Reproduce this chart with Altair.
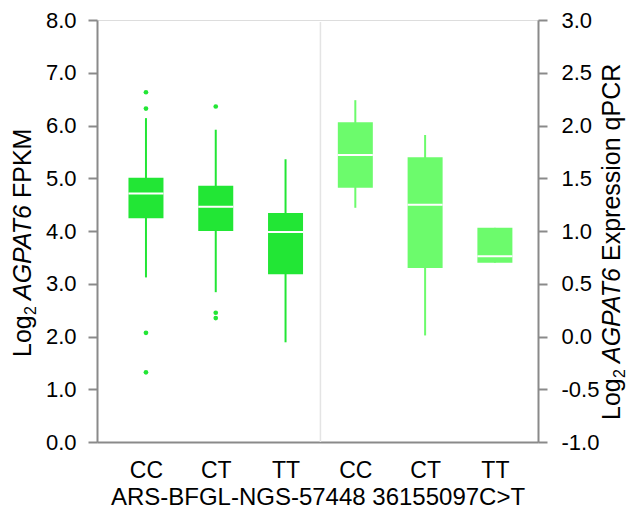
import altair as alt
import pandas as pd

# ---------------- data ----------------
genotypes = ["CC", "CT", "TT"]
x_labels = genotypes + genotypes
snp_title = "ARS-BFGL-NGS-57448 36155097C>T"

fpkm_pos = [0, 1, 2]
fpkm_lower = [3.12, 2.84, 1.89]
fpkm_q1 = [4.24, 4.00, 3.18]
fpkm_median = [4.71, 4.46, 3.98]
fpkm_q3 = [5.01, 4.86, 4.34]
fpkm_upper = [6.14, 5.92, 5.36]
fpkm_outlier_pos = [0, 0, 0, 0, 1, 1, 1]
fpkm_outlier_val = [6.63, 6.32, 2.07, 1.32, 6.36, 2.45, 2.35]

qpcr_pos = [3, 4, 5]
qpcr_lower = [1.22, 0.01, 0.70]
qpcr_q1 = [1.41, 0.65, 0.70]
qpcr_median = [1.72, 1.25, 0.76]
qpcr_q3 = [2.03, 1.70, 1.03]
qpcr_upper = [2.24, 1.91, 1.03]

separator_pos = [2.5]

left_ticks = [0, 1, 2, 3, 4, 5, 6, 7, 8]
right_ticks = [-1.0, -0.5, 0.0, 0.5, 1.0, 1.5, 2.0, 2.5, 3.0]

# ---------------- styles ----------------
FONT = "Liberation Sans"
DARK = "#22e635"
LIGHT = "#6cfb6c"
AXIS_GREY = "#8a8a8a"
W, H = 441, 422
BOX = 35

fpkm_df = pd.DataFrame({"pos": fpkm_pos, "genotype": genotypes, "lower": fpkm_lower,
                        "q1": fpkm_q1, "median": fpkm_median, "q3": fpkm_q3, "upper": fpkm_upper})
qpcr_df = pd.DataFrame({"pos": qpcr_pos, "genotype": genotypes, "lower": qpcr_lower,
                        "q1": qpcr_q1, "median": qpcr_median, "q3": qpcr_q3, "upper": qpcr_upper})
out_df = pd.DataFrame({"pos": fpkm_outlier_pos, "value": fpkm_outlier_val})
sep_df = pd.DataFrame({"pos": separator_pos})

label_expr = "[" + ",".join("'%s'" % g for g in x_labels) + "][datum.value]"
x_enc = alt.X(
    "pos:Q",
    scale=alt.Scale(domain=[-0.63, 5.546], nice=False, zero=False),
    axis=alt.Axis(values=list(range(len(x_labels))), labelExpr=label_expr, title=snp_title,
                  ticks=False, labelPadding=17, titlePadding=3, labelFontSize=23,
                  titleFontSize=24, titleFontWeight="normal", labelFont=FONT, titleFont=FONT,
                  labelColor="black", titleColor="black", domainColor=AXIS_GREY,
                  domainWidth=2, grid=False),
)

num_expr = "(datum.value < 0 ? '-' : '') + format(abs(datum.value), '.1f')"
left_axis = alt.Axis(orient="left", values=left_ticks, labelExpr=num_expr, title=None, grid=False,
                     tickSize=9, tickWidth=2, tickColor=AXIS_GREY, domainColor=AXIS_GREY,
                     domainWidth=2, labelPadding=12, labelFontSize=22, labelFont=FONT,
                     labelColor="black")
right_axis = alt.Axis(orient="right", values=right_ticks, labelExpr=num_expr, title=None, grid=False,
                      tickSize=9, tickWidth=2, tickColor=AXIS_GREY, domainColor=AXIS_GREY,
                      domainWidth=2, labelPadding=14, labelFontSize=22, labelFont=FONT,
                      labelColor="black")
left_scale = alt.Scale(domain=[0, 8], nice=False)
right_scale = alt.Scale(domain=[-1, 3], nice=False)


def box_layers(df, scale, axis, color):
    base = alt.Chart(df)
    whisk = base.mark_rule(color=color, strokeWidth=2).encode(
        x=x_enc, y=alt.Y("lower:Q", scale=scale, axis=axis), y2="upper:Q")
    box = base.mark_bar(color=color, size=BOX).encode(
        x=x_enc, y=alt.Y("q1:Q", scale=scale, axis=axis), y2="q3:Q")
    med = base.mark_tick(color="white", size=BOX, thickness=2, orient="horizontal", opacity=1).encode(
        x=x_enc, y=alt.Y("median:Q", scale=scale, axis=axis))
    return [whisk, box, med]


sep = alt.Chart(sep_df).mark_rule(color="#e4e4e4", strokeWidth=1.5).encode(
    x=x_enc, y=alt.value(2), y2=alt.value(H))
outl = alt.Chart(out_df).mark_circle(color=DARK, size=22, opacity=1).encode(
    x=x_enc, y=alt.Y("value:Q", scale=left_scale, axis=left_axis))

left = alt.layer(sep, *box_layers(fpkm_df, left_scale, left_axis, DARK), outl)
right = alt.layer(*box_layers(qpcr_df, right_scale, right_axis, LIGHT))


def title_pieces(x, y, pieces):
    layers = []
    for text, dx, dy, size, style in pieces:
        layers.append(
            alt.Chart(alt.Data(values=[{}])).mark_text(
                text=text, angle=270, align="left", baseline="alphabetic", font=FONT,
                fontSize=size, fontStyle=style, dx=dx, dy=dy, color="black"
            ).encode(x=alt.value(x), y=alt.value(y))
        )
    return layers


left_title = title_pieces(-66, 337, [
    ("Log", 0, 0, 25, "normal"),
    ("2", 42, 5, 16, "normal"),
    ("AGPAT6", 57, 0, 25, "italic"),
    ("FPKM", 159, 0, 25, "normal"),
])
right_title = title_pieces(523, 400, [
    ("Log", 0, 0, 25, "normal"),
    ("2", 42, 5, 16, "normal"),
    ("AGPAT6", 57, 0, 25, "italic"),
    ("Expression qPCR", 159, 0, 25, "normal"),
])

chart = alt.layer(left, right, *left_title, *right_title).resolve_scale(
    y="independent"
).properties(
    width=W, height=H,
    autosize=alt.AutoSizeParams(type="none"),
    padding={"left": 89, "top": 12, "right": 90, "bottom": 70},
).configure_view(stroke=None).configure(background="white")

chart.save("out.html", embed_options={"renderer": "svg", "actions": False})
